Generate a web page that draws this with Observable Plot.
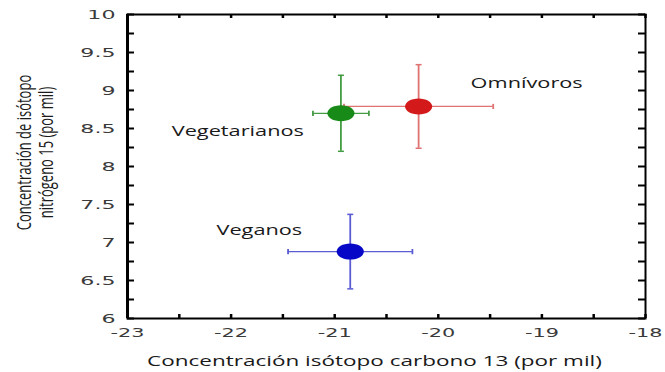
<!DOCTYPE html>
<html>
<head>
<meta charset="utf-8">
<script src="https://cdn.jsdelivr.net/npm/d3@7"></script>
<script src="https://cdn.jsdelivr.net/npm/@observablehq/plot@0.6"></script>
<style>
  body { margin: 0; background: #fff; }
  #chart svg { display: block; }
</style>
</head>
<body>
<div id="chart"></div>
<script>
// ---- data ----
const groups      = ["Omnívoros", "Vegetarianos", "Veganos"];
const carbon      = [-20.19, -20.94, -20.85];   // δ13C mean (x)
const carbonErr   = [0.72, 0.27, 0.60];         // x error half-width
const nitrogen    = [8.79, 8.70, 6.88];         // δ15N mean (y)
const nitrogenErr = [0.55, 0.50, 0.49];         // y error half-width
const dotColors   = ["#d31919", "#178a17", "#0707c8"];
const barColors   = ["#e07272", "#449c44", "#5b5bd2"];
const xTicks = [-23, -22, -21, -20, -19, -18];
const yTicks = [6, 6.5, 7, 7.5, 8, 8.5, 9, 9.5, 10];
const xMinorTicks = [-23, -22.5, -22, -21.5, -21, -20.5, -20, -19.5, -19, -18.5, -18];
const yMinorTicks = [6, 6.25, 6.5, 6.75, 7, 7.25, 7.5, 7.75, 8, 8.25, 8.5, 8.75, 9, 9.25, 9.5, 9.75, 10];
const xTitle = "Concentración isótopo carbono 13 (por mil)";
const yTitle = "Concentración de isótopo\nnitrógeno 15 (por mil)";

// ---- layout ----
const W = 665, H = 372;
const mL = 127, mR = 20, mT = 14, mB = 54;
const plotW = W - mL - mR, plotH = H - mT - mB;

const table = groups.map((g, i) => ({
  group: g, x: carbon[i], xe: carbonErr[i], y: nitrogen[i], ye: nitrogenErr[i],
  dot: dotColors[i], bar: barColors[i]
}));

// custom symbols
const ellipse = {
  draw(ctx, size) {
    const r = Math.sqrt(size / Math.PI), rx = r * 1.7, ry = r, k = 0.5523;
    ctx.moveTo(rx, 0);
    ctx.bezierCurveTo(rx, k * ry, k * rx, ry, 0, ry);
    ctx.bezierCurveTo(-k * rx, ry, -rx, k * ry, -rx, 0);
    ctx.bezierCurveTo(-rx, -k * ry, -k * rx, -ry, 0, -ry);
    ctx.bezierCurveTo(k * rx, -ry, rx, -k * ry, rx, 0);
    ctx.closePath();
  }
};
const hcap = { draw(ctx, size) { const r = Math.sqrt(size / Math.PI); ctx.moveTo(-r, 0); ctx.lineTo(r, 0); } };
const vcap = { draw(ctx, size) { const r = Math.sqrt(size / Math.PI); ctx.moveTo(0, -r); ctx.lineTo(0, r); } };

const labelFont = "'Open Sans', sans-serif";
const tickFont = "'DejaVu Sans', sans-serif";

function label(name, anchor, dx, dy) {
  return Plot.text(table.filter(d => d.group === name), {
    x: "x", y: "y", text: "group", textAnchor: anchor, lineAnchor: "middle", dx, dy,
    fontSize: 15, fontFamily: labelFont, fill: "#1a1a1a"
  });
}

const chart = Plot.plot({
  width: W, height: H,
  marginLeft: mL, marginRight: mR, marginTop: mT, marginBottom: mB,
  x: { domain: [-23, -18] },
  y: { domain: [6, 10] },
  color: { type: "identity" },
  style: { background: "white" },
  marks: [
    // error bars
    Plot.ruleY(table, { y: "y", x1: d => d.x - d.xe, x2: d => d.x + d.xe, stroke: "bar", strokeWidth: 1.3 }),
    Plot.ruleX(table, { x: "x", y1: d => d.y - d.ye, y2: d => d.y + d.ye, stroke: "bar", strokeWidth: 1.8 }),
    Plot.dot(table, { x: "x", y: d => d.y + d.ye, symbol: hcap, r: 3, stroke: "bar", fill: "none", strokeWidth: 1.5 }),
    Plot.dot(table, { x: "x", y: d => d.y - d.ye, symbol: hcap, r: 3, stroke: "bar", fill: "none", strokeWidth: 1.5 }),
    Plot.dot(table, { x: d => d.x + d.xe, y: "y", symbol: vcap, r: 2.6, stroke: "bar", fill: "none", strokeWidth: 1.8 }),
    Plot.dot(table, { x: d => d.x - d.xe, y: "y", symbol: vcap, r: 2.6, stroke: "bar", fill: "none", strokeWidth: 1.8 }),
    // means
    Plot.dot(table, { x: "x", y: "y", symbol: ellipse, r: 8, fill: "dot", stroke: "none" }),
    // frame and inward ticks
    Plot.frame({ stroke: "#000", strokeWidth: 2 }),
    Plot.ruleX([-23], { stroke: "#000", strokeWidth: 3 }),
    Plot.tickX(xMinorTicks, { x: d => d, insetTop: plotH - 4, stroke: "#000", strokeWidth: 2.5 }),
    Plot.tickX(xMinorTicks, { x: d => d, insetBottom: plotH - 4, stroke: "#000", strokeWidth: 2.5 }),
    Plot.tickY(yMinorTicks, { y: d => d, insetRight: plotW - 7, stroke: "#000", strokeWidth: 2 }),
    Plot.tickY(yMinorTicks, { y: d => d, insetLeft: plotW - 7, stroke: "#000", strokeWidth: 2 }),
    // axes labels
    Plot.axisX({ ticks: xTicks, tickSize: 0, tickPadding: 9, tickFormat: d => String(d),
      fontSize: 13, fontFamily: tickFont, fill: "#3a3a3a", label: null }),
    Plot.axisY({ ticks: yTicks, tickSize: 0, tickPadding: 12, tickFormat: d => String(d),
      fontSize: 13, fontFamily: tickFont, fill: "#3a3a3a", label: null }),
    // titles
    Plot.text([xTitle], { frameAnchor: "bottom", lineAnchor: "middle", textAnchor: "middle",
      dy: 43, dx: -12, fontSize: 15, fontFamily: labelFont, fill: "#1a1a1a" }),
    Plot.text([yTitle], { frameAnchor: "left", textAnchor: "middle", lineAnchor: "middle",
      dx: -93, dy: -14, rotate: -90, fontSize: 13, lineHeight: 1.13, fontFamily: labelFont, fill: "#1a1a1a" }),
    // category labels
    label("Omnívoros", "start", 52, -23),
    label("Vegetarianos", "end", -37, 18),
    label("Veganos", "end", -48, -21)
  ]
});

document.getElementById("chart").appendChild(chart);

// The reference picture is stretched horizontally: widen the texts the same way.
function widen(g, sx, sy = 1) {
  if (!g) return;
  g.querySelectorAll("text").forEach(t => {
    const tr = t.getAttribute("transform") || "";
    const xa = t.getAttribute("x");
    let pre = "";
    if (xa !== null && !isNaN(+xa) && +xa !== 0) { pre = ` translate(${+xa},0)`; t.setAttribute("x", 0); }
    t.setAttribute("transform", `${tr}${pre} scale(${sx},${sy})`);
  });
}
widen(chart.querySelector("g[aria-label='x-axis tick label']"), 1.6);
widen(chart.querySelector("g[aria-label='y-axis tick label']"), 1.7);
const textGroups = chart.querySelectorAll("g[aria-label='text']");
widen(textGroups[0], 1.5);                // x title
widen(textGroups[1], 1, 1.5);             // y title (rotated: local y is screen x)
[2, 3, 4].forEach(i => widen(textGroups[i], 1.45)); // category labels
</script>
</body>
</html>
